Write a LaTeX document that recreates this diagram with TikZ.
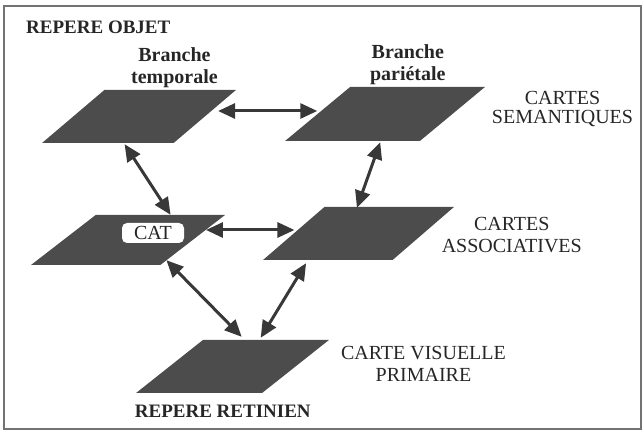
\documentclass[tikz,border=0pt]{standalone}
\usepackage{fontspec}
\setmainfont{Liberation Serif}
\usetikzlibrary{arrows.meta,shapes.geometric,positioning}

\begin{document}
\begin{tikzpicture}[x=1pt,y=1pt]
\tikzstyle{carte}=[trapezium, trapezium stretches=true, trapezium left angle=48, trapezium right angle=132, minimum width=194pt, minimum height=53pt, inner sep=2pt, fill=black!70]
\tikzstyle{lien}=[{Triangle[length=17pt,width=15pt]}-{Triangle[length=17pt,width=15pt]}, line width=3pt, black!78]
\tikzstyle{titre}=[font=\fontsize{19}{22}\selectfont\bfseries, text=black!85, inner sep=0pt, align=center]
\tikzstyle{niveau}=[font=\fontsize{20}{22}\selectfont, text=black!85, inner sep=0pt, align=center]
\tikzstyle{etiquette}=[font=\fontsize{20}{22}\selectfont, text=black!85, fill=white, rounded corners=5pt, minimum width=62pt, minimum height=20pt, inner sep=0pt]

\useasboundingbox (0,0) rectangle (643,430);
\draw[black!55, line width=1.2pt] (4,1) rectangle (641,424);

%%%%%%%%%%%%%%%%%%%%%%%%%%%%%%
%%%%% CARTES
\coordinate (c_tem) at (139, 313.5);
\coordinate (c_par) at (385, 316);
\coordinate (c_cat) at (128, 190);
\coordinate (c_ass) at (358.5, 196.5);
\coordinate (c_ret) at (232.5, 63.5);

\node[carte] (c_tem) at (c_tem) {};
\node[carte, trapezium left angle=47, trapezium right angle=133, minimum width=200pt, minimum height=54pt] (c_par) at (c_par) {};
\node[carte, trapezium left angle=45, trapezium right angle=135, minimum height=50pt] (c_cat) at (c_cat) {};
\node[carte, minimum width=191pt] (c_ass) at (c_ass) {};
\node[carte, trapezium left angle=41.5, trapezium right angle=138.5, minimum width=193pt] (c_ret) at (c_ret) {};

\node[etiquette] (cat) at (153, 197) {CAT};

%%%%%%%%%%%%%%%%%%%%%%%%%%%%%%
%%%%% CONEXIONES
\draw[lien] ([xshift=13, yshift=5.5]c_tem.right side) -- ([yshift=3]c_par.left side);
\draw[lien] ([xshift=17, yshift=-1]c_tem.bottom side) -- ([xshift=10]c_cat.top side);
\draw[lien] ([xshift=28, yshift=-1]c_par.bottom side) -- ([xshift=-32.5, yshift=-1]c_ass.top side);
\draw[lien] ([xshift=13, yshift=10]c_cat.right side) -- ([xshift=1, yshift=3.5]c_ass.left side);
\draw[lien] ([xshift=6, yshift=5]c_cat.bottom right corner) -- ([xshift=-24.5, yshift=3]c_ret.top side);
\draw[lien] ([xshift=-21.5, yshift=-3]c_ass.bottom side) -- ([xshift=-5.5, yshift=2]c_ret.top side);

%%%%%%%%%%%%%%%%%%%%%%%%%%%%%%
%%%%% TEXTES
\node[titre, anchor=base west] (obj) at (26, 396) {REPERE OBJET};
\node[titre, font=\fontsize{20}{22}\selectfont\bfseries, above=2pt of c_tem.top side, xshift=4pt] (t_tem) {Branche\\temporale};
\node[titre, font=\fontsize{20}{22}\selectfont\bfseries, above=2pt of c_par.top side, xshift=-10pt] (t_par) {Branche\\pariétale};
\node[titre, below=12pt of c_ret.bottom side, xshift=24pt] (ret) {REPERE RETINIEN};

\node[niveau, font=\fontsize{20}{19.5}\selectfont, right=39pt of c_par, yshift=5pt] (sem) {CARTES\\SEMANTIQUES};
\node[niveau, right=18pt of c_ass, yshift=-1.5pt] (ass) {CARTES\\ASSOCIATIVES};
\node[niveau, right=45pt of c_ret, yshift=3pt] (vis) {CARTE VISUELLE\\PRIMAIRE};

\end{tikzpicture}
\end{document}
